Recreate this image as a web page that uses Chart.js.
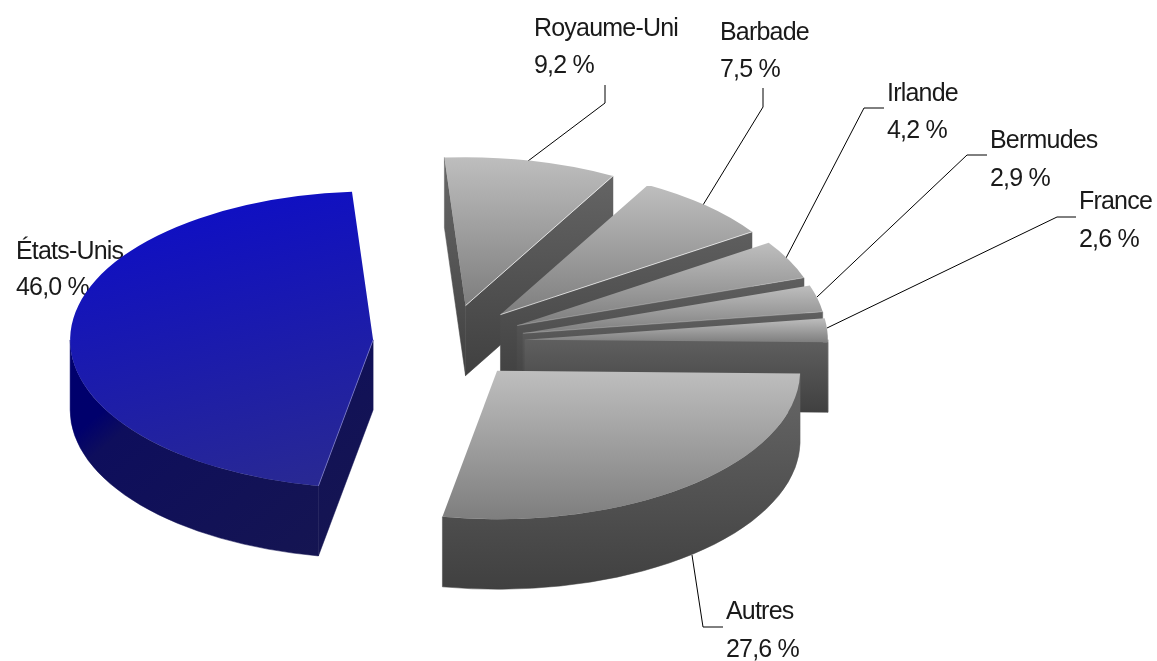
<!DOCTYPE html>
<html lang="fr">
<head>
<meta charset="utf-8">
<title>Répartition par pays</title>
<style>
    html, body { margin: 0; padding: 0; background: #ffffff; }
    canvas { display: block; }
</style>
<script src="https://cdn.jsdelivr.net/npm/chart.js@4/dist/chart.umd.min.js"></script>
</head>
<body>
<canvas id="chart" width="1157" height="661"></canvas>
<script>
// values, clockwise from the top
const categories = ["Royaume-Uni", "Barbade", "Irlande", "Bermudes", "France", "Autres", "États-Unis"];
const shares = [9.2, 7.5, 4.2, 2.9, 2.6, 27.6, 46.0];

// pie geometry, the flat pie is squashed and pushed down to look 3D
const CENTER_X = 449;
const CENTER_Y = 342;
const RADIUS = 303;
const SQUASH = 0.49;
const DEPTH = 70;
const EXPLODE = 76;

const graySide = [[0, "#686868"], [1, "#404040"]];
const grayTop = ["#bebebe", "#7e7e7e"];
const grayStyle = {top: grayTop, side: graySide, edge: "rgba(255,255,255,0.7)", diagonal: false};
const faintStyle = {top: grayTop, side: graySide, edge: "rgba(255,255,255,0.25)", diagonal: false};
const plainStyle = {top: grayTop, side: graySide, edge: null, diagonal: false};
const blueStyle = {top: ["#0b0bcb", "#2a2a90"], side: [[0, "#00006e"], [0.4, "#00006c"], [0.46, "#0e0e5c"], [1, "#161650"]], edge: "rgba(150,150,220,0.6)", diagonal: true};
const sliceStyles = [grayStyle, grayStyle, faintStyle, faintStyle, plainStyle, plainStyle, blueStyle];

// label text corner and leader line for each category
const labelLayout = [
    {x: 534, y: 36, line: 73, leader: [[528, 161], [605, 103], [605, 85]]},
    {x: 720, y: 40, line: 77, leader: [[703, 205], [763, 107], [763, 88]]},
    {x: 887, y: 101, line: 138, leader: [[786, 258], [864, 108], [884, 108]]},
    {x: 990, y: 148, line: 186, leader: [[817, 297], [967, 155], [987, 155]]},
    {x: 1079, y: 209, line: 247, leader: [[827, 328], [1057, 217], [1076, 217]]},
    {x: 726, y: 619, line: 657, leader: [[692, 555], [703, 627], [723, 627]]},
    {x: 16, y: 259, line: 295, leader: null}
];

function formatShare(value) {
    return value.toFixed(1).replace(".", ",") + " %";
}

function sliceBounds(arc) {
    let angles = [arc.startAngle, arc.endAngle];
    for (let k = -4; k <= 4; k++) {
        let a = k * Math.PI / 2;
        if (a > arc.startAngle && a < arc.endAngle) angles.push(a);
    }
    let xs = [0].concat(angles.map((a) => Math.cos(a) * RADIUS));
    let ys = [0].concat(angles.map((a) => Math.sin(a) * RADIUS));
    return {minX: Math.min(...xs), maxX: Math.max(...xs), minY: Math.min(...ys), maxY: Math.max(...ys)};
}

// outer wall and the two cut faces, only the ones facing the viewer
function drawSides(ctx, arc, style, bounds, apexX, apexY) {
    let top = apexY + bounds.minY * SQUASH;
    let bottom = apexY + bounds.maxY * SQUASH + DEPTH;
    let fill = style.diagonal
        ? ctx.createLinearGradient(apexX + bounds.minX, top, apexX + bounds.maxX, bottom)
        : ctx.createLinearGradient(0, top, 0, bottom);
    style.side.forEach((stop) => fill.addColorStop(stop[0], stop[1]));
    ctx.fillStyle = fill;
    ctx.strokeStyle = fill;
    ctx.lineWidth = 0.5;

    let ry = RADIUS * SQUASH;
    // angles can come in below zero, the wall only exists between 0 and PI
    [0, 2 * Math.PI, -2 * Math.PI].forEach((turn) => {
        let a0 = Math.max(arc.startAngle + turn, 0);
        let a1 = Math.min(arc.endAngle + turn, Math.PI);
        if (a1 <= a0) return;
        ctx.beginPath();
        ctx.ellipse(apexX, apexY, RADIUS, ry, 0, a0, a1);
        ctx.ellipse(apexX, apexY + DEPTH, RADIUS, ry, 0, a1, a0, true);
        ctx.closePath();
        ctx.fill();
        ctx.stroke();
    });

    let cutFace = (angle) => {
        let px = apexX + Math.cos(angle) * RADIUS;
        let py = apexY + Math.sin(angle) * ry;
        ctx.beginPath();
        ctx.moveTo(apexX, apexY);
        ctx.lineTo(px, py);
        ctx.lineTo(px, py + DEPTH);
        ctx.lineTo(apexX, apexY + DEPTH);
        ctx.closePath();
        ctx.fill();
        ctx.stroke();
    };
    if (Math.cos(arc.startAngle) < 0) cutFace(arc.startAngle);
    if (Math.cos(arc.endAngle) > 0) cutFace(arc.endAngle);
}

// thin light line on the front cut edge
function drawEdge(ctx, arc, style, apexX, apexY) {
    if (!style.edge) return;
    let angle = Math.cos(arc.endAngle) > 0 ? arc.endAngle : arc.startAngle;
    ctx.strokeStyle = style.edge;
    ctx.lineWidth = 1;
    ctx.beginPath();
    ctx.moveTo(apexX, apexY);
    ctx.lineTo(apexX + Math.cos(angle) * RADIUS, apexY + Math.sin(angle) * RADIUS * SQUASH);
    ctx.stroke();
}

// the labels go under the slices, the blue one covers the end of its text
function drawLabels(ctx) {
    ctx.save();
    ctx.strokeStyle = "#000000";
    ctx.lineWidth = 1;
    ctx.fillStyle = "#1a1a1a";
    ctx.font = "25px 'Liberation Sans'";
    ctx.letterSpacing = "-0.8px";
    ctx.textBaseline = "alphabetic";
    categories.forEach((name, i) => {
        let label = labelLayout[i];
        if (label.leader) {
            ctx.beginPath();
            label.leader.forEach((p, k) => {
                if (k == 0) ctx.moveTo(p[0], p[1]);
                else ctx.lineTo(p[0], p[1]);
            });
            ctx.stroke();
        }
        ctx.fillText(name, label.x, label.y);
        ctx.fillText(formatShare(shares[i]), label.x, label.line);
    });
    ctx.restore();
}

const pie3d = {
    id: "pie3d",
    beforeDatasetsDraw(chart) {
        const ctx = chart.ctx;
        const arcs = chart.getDatasetMeta(0).data;
        drawLabels(ctx);
        arcs.forEach((arc, i) => {
            let style = sliceStyles[i];
            let bounds = sliceBounds(arc);
            let mid = (arc.startAngle + arc.endAngle) / 2;
            let shiftX = Math.cos(mid) * EXPLODE;
            let shiftY = Math.sin(mid) * EXPLODE;
            let apexX = CENTER_X + shiftX;
            let apexY = CENTER_Y + shiftY * SQUASH;

            drawSides(ctx, arc, style, bounds, apexX, apexY);

            // the top face is the library's own arc, under a squashing transform
            ctx.save();
            ctx.translate(apexX, apexY);
            ctx.scale(1, SQUASH);
            ctx.translate(-arc.x, -arc.y);
            let fill = style.diagonal
                ? ctx.createLinearGradient(arc.x + bounds.minX, arc.y + bounds.minY, arc.x + bounds.maxX, arc.y + bounds.maxY)
                : ctx.createLinearGradient(0, arc.y + bounds.minY, 0, arc.y + bounds.maxY);
            fill.addColorStop(0, style.top[0]);
            fill.addColorStop(1, style.top[1]);
            let resolved = arc.options;
            arc.options = Object.assign({}, resolved, {backgroundColor: fill, borderColor: fill});
            arc.draw(ctx);
            arc.options = resolved;
            ctx.restore();

            drawEdge(ctx, arc, style, apexX, apexY);
        });
        return false; // slices are done above, back to front
    }
};

new Chart(document.getElementById("chart"), {
    type: "pie",
    data: {
        labels: categories,
        datasets: [{data: shares, backgroundColor: "#bebebe", borderWidth: 0}]
    },
    options: {
        responsive: false,
        animation: false,
        rotation: -4,
        radius: RADIUS,
        layout: {padding: 0},
        plugins: {
            legend: {display: false},
            title: {display: false},
            tooltip: {enabled: false}
        }
    },
    plugins: [pie3d]
});
</script>
</body>
</html>
